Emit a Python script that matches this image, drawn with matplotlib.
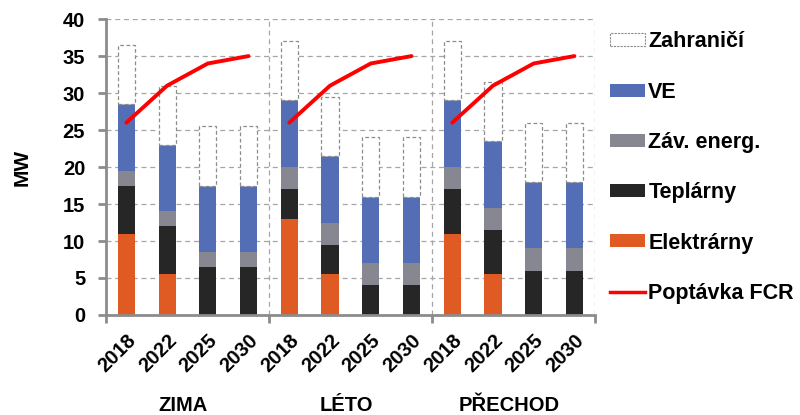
import matplotlib.pyplot as plt
import numpy as np
from matplotlib.patches import Patch
from matplotlib.lines import Line2D

plt.rcParams['font.family'] = ['Liberation Sans', 'DejaVu Sans']
plt.rcParams['font.weight'] = 'bold'

seasons = ['ZIMA', 'LÉTO', 'PŘECHOD']
years = ['2018', '2022', '2025', '2030']

# MW per source, bars ordered ZIMA, LÉTO, PŘECHOD x years
elektrarny = [11, 5.5, 0, 0,   13, 5.5, 0, 0,   11, 5.5, 0, 0]
teplarny   = [6.5, 6.5, 6.5, 6.5,   4, 4, 4, 4,   6, 6, 6, 6]
zav_energ  = [2, 2, 2, 2,   3, 3, 3, 3,   3, 3, 3, 3]
ve         = [9, 9, 9, 9,   9, 9, 9, 9,   9, 9, 9, 9]
zahranici  = [8, 8, 8, 8,   8, 8, 8, 8,   8, 8, 8, 8]
poptavka   = [26, 31, 34, 35]

c_elek = '#E05A24'
c_tepl = '#262626'
c_zav = '#878791'
c_ve = '#536EB4'
c_red = '#FF0000'
c_axis = '#8C8C8C'

fig = plt.figure(figsize=(8, 4.15), dpi=100)
ax = fig.add_axes([0.1325, 0.241, 0.611, 0.713])

x = np.arange(12)
w = 0.42
b1 = np.array(elektrarny)
b2 = b1 + teplarny
b3 = b2 + zav_energ
b4 = b3 + ve
ax.bar(x, elektrarny, w, color=c_elek, zorder=3)
ax.bar(x, teplarny, w, bottom=b1, color=c_tepl, zorder=3)
ax.bar(x, zav_energ, w, bottom=b2, color=c_zav, zorder=3)
ax.bar(x, ve, w, bottom=b3, color=c_ve, zorder=3)
ax.bar(x, zahranici, w, bottom=b4, facecolor='white', edgecolor='#8C8C8C',
       linestyle=(0, (3, 2)), linewidth=0.9, zorder=3)

for g in range(3):
    ax.plot(x[g * 4:g * 4 + 4], poptavka, color=c_red, linewidth=2.8,
            solid_capstyle='round', zorder=4)

ax.set_xlim(-0.5, 11.5)
ax.set_ylim(0, 40)
ax.set_yticks(range(0, 41, 5))
ax.yaxis.grid(True, color='#A6A6A6', linestyle=(0, (4, 3)), linewidth=0.9, zorder=0)
for xv in [3.5, 7.5, 11.5]:
    ax.axvline(xv, color='#A6A6A6', linestyle=(0, (4, 3)), linewidth=0.9, zorder=0)

for s in ['top', 'right']:
    ax.spines[s].set_visible(False)
for s in ['left', 'bottom']:
    ax.spines[s].set_color(c_axis)
    ax.spines[s].set_linewidth(2)
    ax.spines[s].set_zorder(5)

ax.tick_params(axis='y', labelsize=14.5, colors=c_axis, labelcolor='black',
               length=6, width=2, direction='out', pad=9)
ax.set_xticks(x)
ax.set_xticklabels(years * 3, rotation=45, ha='right', rotation_mode='anchor',
                   fontsize=14.5)
ax.tick_params(axis='x', length=0, pad=11)
# group separators below the axis
ax.set_xticks([-0.5, 3.5, 7.5, 11.5], minor=True)
ax.tick_params(axis='x', which='minor', length=6, width=2, color=c_axis)

ax.set_ylabel('MW', fontsize=15, fontweight='bold', labelpad=22)

for g, name in enumerate(seasons):
    ax.text(g * 4 + 1.4, -12.3, name, ha='center', va='center', fontsize=14.5,
            fontweight='bold')

handles = [
    Patch(facecolor='white', edgecolor='#8C8C8C', linestyle=(0, (2, 1)), linewidth=0.8),
    Patch(facecolor=c_ve),
    Patch(facecolor=c_zav),
    Patch(facecolor=c_tepl),
    Patch(facecolor=c_elek),
    Line2D([0], [0], color=c_red, linewidth=2.5),
]
labels = ['Zahraničí', 'VE', 'Záv. energ.', 'Teplárny', 'Elektrárny', 'Poptávka FCR']
fig.legend(handles, labels, loc='upper left', bbox_to_anchor=(0.752, 0.945),
           frameon=False, fontsize=15.5, handlelength=1.63, handleheight=0.56,
           handletextpad=0.14, labelspacing=1.36, borderaxespad=0)

fig.savefig('out.png', dpi=100)
